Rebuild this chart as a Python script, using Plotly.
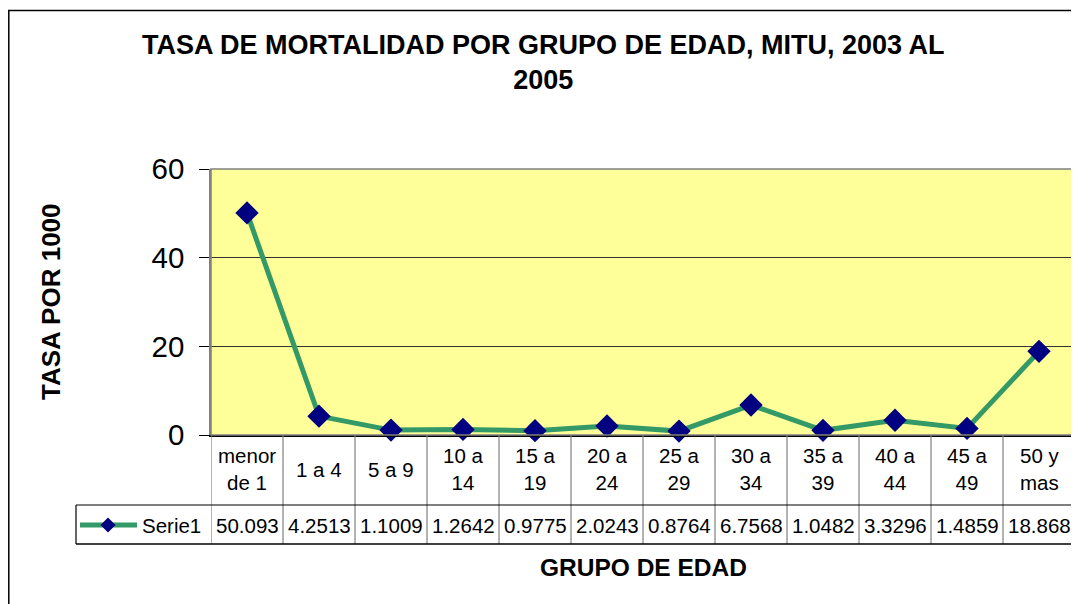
import plotly.graph_objects as go

categories = ["menor<br>de 1", "1 a 4", "5 a 9", "10 a<br>14", "15 a<br>19", "20 a<br>24",
              "25 a<br>29", "30 a<br>34", "35 a<br>39", "40 a<br>44", "45 a<br>49", "50 y<br>mas"]
values = [50.093, 4.2513, 1.1009, 1.2642, 0.9775, 2.0243, 0.8764, 6.7568, 1.0482, 3.3296, 1.4859, 18.868]
series_name = "Serie1"
y_ticks = [0, 20, 40, 60]

# page body has an 8px margin; figure fills the rest of the 1079x604 window
OFF = 8
W, H = 1079 - OFF, 604 - OFF
FONT = "Arial, Liberation Sans, sans-serif"
LINE_C = "#339966"
MARK_C = "#000080"

def px(x):
    return (x - OFF) / W

def py(y):
    return 1 - (y - OFF) / H

# plot area in window pixels
X0, X1 = 211, 1075
Y0, Y1 = 169, 435
ROW1, ROW2 = 505, 544
LEG_X0 = 76

xs = list(range(len(categories)))

fig = go.Figure()
fig.add_trace(go.Scatter(
    x=xs, y=values, mode="lines+markers", name=series_name,
    line=dict(color=LINE_C, width=5),
    marker=dict(symbol="diamond", size=18, color=MARK_C),
    showlegend=False, cliponaxis=False,
))

shapes = []
annotations = []

# outer chart border
shapes.append(dict(type="rect", xref="paper", yref="paper",
                   x0=px(8.8), x1=px(1100), y0=py(640), y1=py(10.5),
                   line=dict(color="#000000", width=1.5), layer="below"))
# plot area border
shapes.append(dict(type="rect", xref="paper", yref="paper",
                   x0=px(X0), x1=px(X1), y0=py(Y1), y1=py(Y0),
                   line=dict(color="#808080", width=1.5), layer="above"))

n = len(categories)
# table vertical lines
for i in range(n + 1):
    shapes.append(dict(type="line", xref="x", yref="paper",
                       x0=i - 0.5, x1=i - 0.5, y0=py(ROW2), y1=py(Y1),
                       line=dict(color="#808080", width=1.2)))
# horizontal line between rows
shapes.append(dict(type="line", xref="paper", yref="paper",
                   x0=px(LEG_X0), x1=px(X1), y0=py(ROW1), y1=py(ROW1),
                   line=dict(color="#000000", width=1.2)))
# bottom line
shapes.append(dict(type="line", xref="paper", yref="paper",
                   x0=px(LEG_X0), x1=px(X1), y0=py(ROW2), y1=py(ROW2),
                   line=dict(color="#000000", width=1.5)))
# legend cell left
shapes.append(dict(type="line", xref="paper", yref="paper",
                   x0=px(LEG_X0), x1=px(LEG_X0), y0=py(ROW2), y1=py(ROW1),
                   line=dict(color="#000000", width=1.2)))
# legend key line
shapes.append(dict(type="line", xref="paper", yref="paper",
                   x0=px(80), x1=px(137), y0=py(525), y1=py(525),
                   line=dict(color=LINE_C, width=5)))
# legend key diamond
d = 7.5
cx, cy = 108, 525
shapes.append(dict(type="path", xref="paper", yref="paper",
                   path=f"M {px(cx-d)},{py(cy)} L {px(cx)},{py(cy-d)} L {px(cx+d)},{py(cy)} L {px(cx)},{py(cy+d)} Z",
                   fillcolor=MARK_C, line=dict(color=MARK_C, width=0)))

TF = 20.5
annotations.append(dict(xref="paper", yref="paper", x=px(140), y=py(525),
                        text=series_name, showarrow=False, xanchor="left", yanchor="middle",
                        font=dict(family=FONT, size=TF, color="#000000")))

for i, (c, v) in enumerate(zip(categories, values)):
    annotations.append(dict(xref="x", yref="paper", x=i, y=py(469),
                            text=c, showarrow=False, xanchor="center", yanchor="middle",
                            font=dict(family=FONT, size=TF, color="#000000")))
    annotations.append(dict(xref="x", yref="paper", x=i, y=py(525),
                            text=f"{v:.5g}", showarrow=False, xanchor="center", yanchor="middle",
                            font=dict(family=FONT, size=TF, color="#000000")))

# titles
annotations.append(dict(xref="paper", yref="paper", x=px(543), y=py(62),
                        text="<b>TASA DE MORTALIDAD POR GRUPO DE EDAD, MITU, 2003 AL<br>2005</b>",
                        showarrow=False, xanchor="center", yanchor="middle",
                        font=dict(family=FONT, size=27, color="#000000")))
annotations.append(dict(xref="paper", yref="paper", x=px(51), y=py(302),
                        text="<b>TASA POR 1000</b>", textangle=-90,
                        showarrow=False, xanchor="center", yanchor="middle",
                        font=dict(family=FONT, size=26, color="#000000")))
annotations.append(dict(xref="paper", yref="paper", x=px(643), y=py(567),
                        text="<b>GRUPO DE EDAD</b>",
                        showarrow=False, xanchor="center", yanchor="middle",
                        font=dict(family=FONT, size=24.5, color="#000000")))

fig.update_layout(
    width=W, height=H,
    margin=dict(l=0, r=0, t=0, b=0, autoexpand=False),
    paper_bgcolor="#FFFFFF",
    plot_bgcolor="#FFFF99",
    shapes=shapes,
    annotations=annotations,
    xaxis=dict(domain=[px(X0), px(X1)], range=[-0.5, n - 0.5],
               showticklabels=False, showgrid=False, zeroline=False,
               showline=True, linecolor="#000000", linewidth=1.5, ticks="",
               automargin=False),
    yaxis=dict(domain=[py(Y1), py(Y0)], range=[0, 60], tickvals=y_ticks,
               showgrid=True, gridcolor="#333333", gridwidth=1.2, zeroline=False,
               showline=True, linecolor="#808080", linewidth=1.5,
               ticks="outside", ticklen=10, tickcolor="#000000", tickwidth=1.2,
               ticklabelstandoff=9, automargin=False,
               tickfont=dict(family=FONT, size=29.5, color="#000000")),
    font=dict(family=FONT),
)

fig.write_html("out.html")
